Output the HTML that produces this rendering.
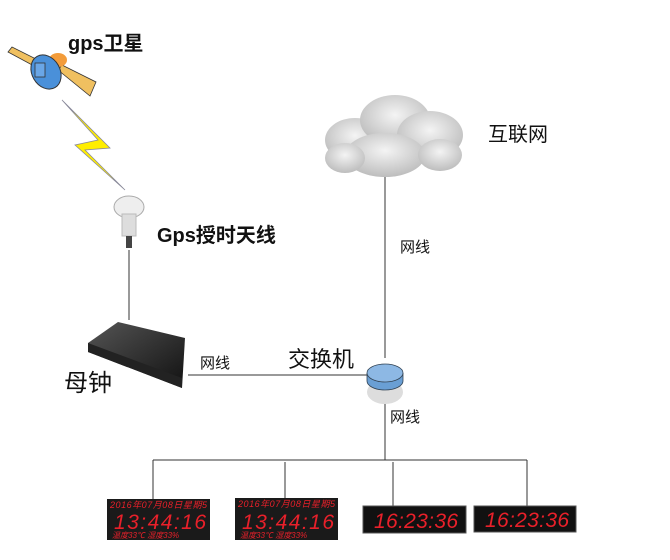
<!DOCTYPE html>
<html><head><meta charset="utf-8"><style>
body{margin:0;background:#fff;width:670px;height:560px;overflow:hidden;position:relative;font-family:"Liberation Sans","Noto Sans CJK SC",sans-serif}
.t{position:absolute;white-space:nowrap;color:#111}
</style></head><body>
<svg width="670" height="560" style="position:absolute;left:0;top:0">
<defs>
<radialGradient id="cl" cx="50%" cy="40%" r="60%"><stop offset="0" stop-color="#f4f4f4"/><stop offset="1" stop-color="#bdbdbd"/></radialGradient>
<linearGradient id="mc" x1="0" y1="0" x2="1" y2="1"><stop offset="0" stop-color="#555"/><stop offset="1" stop-color="#111"/></linearGradient>
</defs>
<g stroke="#333" stroke-width="1" fill="none">
<line x1="129" y1="250" x2="129" y2="320"/>
<line x1="188" y1="375" x2="370" y2="375"/>
<line x1="385" y1="175" x2="385" y2="358"/>
<line x1="385" y1="400" x2="385" y2="460"/>
<line x1="153" y1="460" x2="527" y2="460"/>
<line x1="153" y1="460" x2="153" y2="499"/>
<line x1="285" y1="462" x2="285" y2="498"/>
<line x1="393" y1="462" x2="393" y2="506"/>
<line x1="527" y1="460" x2="527" y2="506"/>
</g>
<!-- satellite -->
<polygon points="8,52 12,47 38,60 34,66" fill="#f0c060" stroke="#333" stroke-width="0.8"/>
<polygon points="58,70 62,65 96,82 90,96" fill="#f0c060" stroke="#333" stroke-width="0.8"/>
<ellipse cx="58" cy="60" rx="9" ry="7" fill="#f39c3a"/>
<ellipse cx="46" cy="72" rx="14" ry="18" fill="#4a90d9" stroke="#333" transform="rotate(-30 46 72)"/>
<rect x="35" y="63" width="10" height="14" fill="#6aa6e6" stroke="#333" stroke-width="0.8"/>
<!-- lightning -->
<polygon points="62,100 98,140 75,145 125,190 85,150 110,148" fill="#ffee00" stroke="#889" stroke-width="0.8"/>
<!-- antenna -->
<ellipse cx="129" cy="207" rx="15" ry="11" fill="#eee" stroke="#aaa"/>
<rect x="122" y="214" width="14" height="22" fill="#ddd" stroke="#bbb"/>
<rect x="126" y="236" width="6" height="12" fill="#444"/>
<!-- master clock -->
<polygon points="88,343 118,322 185,338 182,388 88,352" fill="url(#mc)"/>
<polygon points="88,343 182,378 182,388 88,352" fill="#222"/>
<!-- cloud -->
<g fill="url(#cl)">
<ellipse cx="355" cy="140" rx="30" ry="22"/><ellipse cx="395" cy="120" rx="35" ry="25"/>
<ellipse cx="430" cy="135" rx="33" ry="24"/><ellipse cx="385" cy="155" rx="40" ry="22"/>
<ellipse cx="440" cy="155" rx="22" ry="16"/><ellipse cx="345" cy="158" rx="20" ry="15"/>
</g>
<!-- switch -->
<ellipse cx="385" cy="392" rx="18" ry="12" fill="#ddd"/>
<path d="M367,373 v8 a18,9 0 0 0 36,0 v-8" fill="#6a9fd4" stroke="#345" stroke-width="0.8"/>
<ellipse cx="385" cy="373" rx="18" ry="9" fill="#8db8e4" stroke="#345" stroke-width="0.8"/>
<!-- clocks -->
<rect x="107" y="499" width="103" height="41" fill="#1a1a1a"/>
<rect x="235" y="498" width="103" height="42" fill="#1a1a1a"/>
<rect x="363" y="506" width="103" height="27" fill="#111" stroke="#555"/>
<rect x="474" y="506" width="102" height="26" fill="#111" stroke="#555"/>
<g fill="#e8202a" font-family="Liberation Sans,sans-serif" font-style="italic">
<text x="110" y="508" font-size="9" textLength="97">2016年07月08日星期5</text>
<text x="238" y="507" font-size="9" textLength="97">2016年07月08日星期5</text>
<text x="114" y="529" font-size="21" textLength="92">13:44:16</text>
<text x="242" y="529" font-size="21" textLength="92">13:44:16</text>
<text x="112" y="538" font-size="8">温度33℃    湿度33%</text>
<text x="240" y="538" font-size="8">温度33℃    湿度33%</text>
<text x="374" y="528" font-size="21" textLength="84">16:23:36</text>
<text x="485" y="527" font-size="21" textLength="84">16:23:36</text>
</g>
</svg>
<div class="t" style="left:68px;top:27px;font-size:20px;font-weight:bold">gps卫星</div>
<div class="t" style="left:157px;top:219px;font-size:20px;font-weight:bold">Gps授时天线</div>
<div class="t" style="left:488px;top:118px;font-size:20px">互联网</div>
<div class="t" style="left:400px;top:236px;font-size:15px">网线</div>
<div class="t" style="left:288px;top:342px;font-size:22px">交换机</div>
<div class="t" style="left:64px;top:363px;font-size:24px">母钟</div>
<div class="t" style="left:200px;top:352px;font-size:15px">网线</div>
<div class="t" style="left:390px;top:406px;font-size:15px">网线</div>
</body></html>
